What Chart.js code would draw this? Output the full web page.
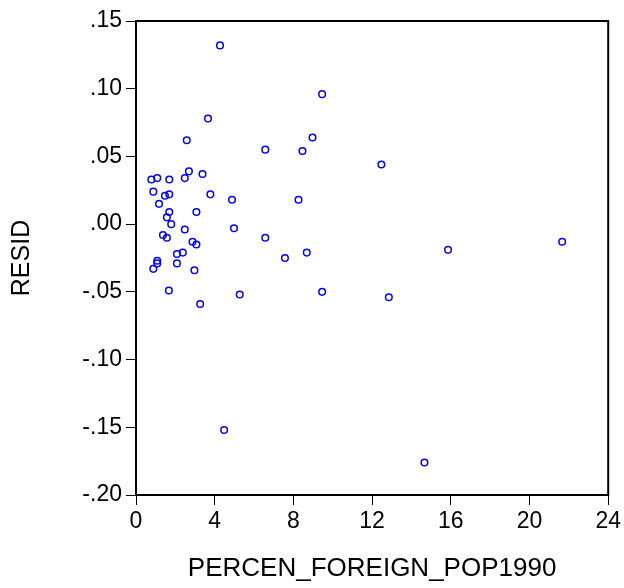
<!DOCTYPE html>
<html>
<head>
<meta charset="utf-8">
<script src="https://cdn.jsdelivr.net/npm/chart.js@4"></script>
<style>
  html, body { margin: 0; padding: 0; background: #fff; }
  #wrap { width: 624px; height: 588px; }
</style>
</head>
<body>
<div id="wrap"><canvas id="grafico" width="624" height="588"></canvas></div>
<script>
// PERCEN_FOREIGN_POP1990 (x) and RESID (y)
var percenForeign = [
  4.27, 9.46, 3.66, 2.58, 8.97, 6.57, 8.46, 12.47, 0.78, 1.08,
  1.69, 2.69, 2.48, 3.38, 0.88, 1.47, 1.69, 3.78, 1.17, 4.88,
  8.26, 1.69, 3.07, 1.57, 1.79, 2.48, 4.98, 1.37, 1.57, 2.87,
  3.07, 6.57, 2.08, 2.38, 7.57, 8.68, 1.08, 1.08, 0.88, 2.08,
  2.97, 1.67, 5.27, 3.26, 9.46, 4.48, 15.86, 21.66, 12.85, 14.66
];
var resid = [
  0.132, 0.096, 0.078, 0.062, 0.064, 0.055, 0.054, 0.044, 0.033, 0.034,
  0.033, 0.039, 0.034, 0.037, 0.024, 0.021, 0.022, 0.022, 0.015, 0.018,
  0.018, 0.009, 0.009, 0.005, 0.000, -0.004, -0.003, -0.008, -0.010, -0.013,
  -0.015, -0.010, -0.022, -0.021, -0.025, -0.021, -0.027, -0.029, -0.033, -0.029,
  -0.034, -0.049, -0.052, -0.059, -0.050, -0.152, -0.019, -0.013, -0.054, -0.176
];

var xMin = 0, xMax = 24, xStep = 4;
var yMin = -0.20, yMax = 0.15, yStep = 0.05;

var punti = [];
for (var i = 0; i < percenForeign.length; i++) {
  punti.push({ x: percenForeign[i], y: resid[i] });
}

// formato tipo EViews: .15, -.05, .00
function formatResid(v) {
  var s = Math.abs(v).toFixed(2).replace(/^0/, '');
  return (v < -1e-9 ? '-' : '') + s;
}

// cornice intorno all'area del grafico
var cornice = {
  id: 'cornice',
  afterDraw: function (chart) {
    var a = chart.chartArea;
    var ctx = chart.ctx;
    ctx.save();
    ctx.strokeStyle = '#000';
    ctx.lineWidth = 2;
    ctx.strokeRect(a.left, a.top, a.right - a.left, a.bottom - a.top);
    ctx.restore();
  }
};

var font = 'Liberation Sans, Arial, sans-serif';

var ctx = document.getElementById('grafico').getContext('2d');
var grafico = new Chart(ctx, {
  type: 'scatter',
  data: {
    datasets: [{
      label: 'RESID',
      data: punti,
      pointStyle: 'circle',
      pointRadius: 3.3,
      pointBorderWidth: 1.5,
      borderColor: '#0000ff',
      backgroundColor: 'rgba(255,255,255,0)'
    }]
  },
  options: {
    responsive: false,
    animation: false,
    layout: { padding: { top: 21, right: 15, left: 0, bottom: 0 } },
    plugins: {
      legend: { display: false },
      tooltip: { enabled: false }
    },
    scales: {
      x: {
        type: 'linear',
        min: xMin,
        max: xMax,
        afterFit: function (scale) { scale.height = 93; },
        grid: { drawOnChartArea: false, drawTicks: true, tickLength: 10, color: '#000' },
        border: { display: true, color: '#000', width: 2 },
        ticks: {
          stepSize: xStep,
          color: '#000',
          padding: 3,
          font: { family: font, size: 23 }
        },
        title: {
          display: true,
          text: 'PERCEN_FOREIGN_POP1990',
          color: '#000',
          font: { family: font, size: 26 },
          padding: { top: 0, bottom: 4 }
        }
      },
      y: {
        type: 'linear',
        min: yMin,
        max: yMax,
        afterFit: function (scale) { scale.width = 136; },
        grid: { drawOnChartArea: false, drawTicks: true, tickLength: 10, color: '#000' },
        border: { display: true, color: '#000', width: 2 },
        ticks: {
          stepSize: yStep,
          color: '#000',
          padding: 4,
          font: { family: font, size: 23 },
          callback: function (v) { return formatResid(v); }
        },
        title: {
          display: true,
          text: 'RESID',
          color: '#000',
          font: { family: font, size: 25 },
          padding: { top: 7, bottom: 0 }
        }
      }
    }
  },
  plugins: [cornice]
});
</script>
</body>
</html>
